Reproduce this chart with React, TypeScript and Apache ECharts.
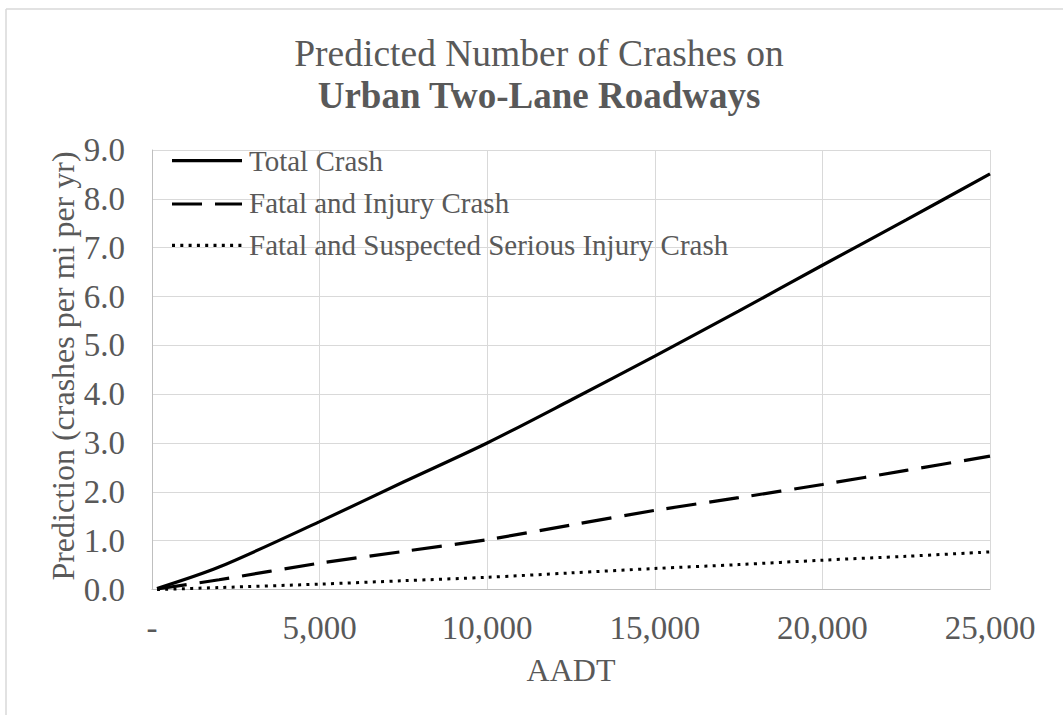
import React, { useEffect, useRef } from "react";
import * as echarts from "echarts";

const aadt = [150, 2000, 5000, 7500, 10000, 12500, 15000, 17500, 20000, 22500, 25000];
const totalCrash = [0.02, 0.46, 1.39, 2.2, 3.0, 3.88, 4.78, 5.7, 6.64, 7.57, 8.51];
const fatalInjury = [0.01, 0.2, 0.54, 0.78, 1.02, 1.32, 1.62, 1.88, 2.15, 2.44, 2.73];
const fatalSerious = [0.0, 0.04, 0.11, 0.18, 0.25, 0.34, 0.43, 0.51, 0.6, 0.68, 0.77];
const seriesNames = [
  "Total Crash",
  "Fatal and Injury Crash",
  "Fatal and Suspected Serious Injury Crash",
];
const titleLine1 = "Predicted Number of Crashes on";
const titleLine2 = "Urban Two-Lane Roadways";
const yAxisTitle = "Prediction (crashes per mi per yr)";
const xAxisTitle = "AADT";

const FONT = "'Liberation Serif', 'Times New Roman', serif";
const TXT = "#595959";
const DASHES: (number[] | null)[] = [null, [30, 13], [3, 5.3]];

export default function App() {
  const ref = useRef<HTMLDivElement>(null);
  useEffect(() => {
    if (!ref.current) return;
    const chart = echarts.init(ref.current, undefined, { renderer: "svg" });
    const pairs = (ys: number[]) => aadt.map((x, i) => [x, ys[i]]);
    const lineBase = { type: "line", showSymbol: false, symbol: "none", smooth: 0.3 };
    const legendRowsY = [160.7, 204, 245.3];
    const legendIcons = legendRowsY.map((y, i) => ({
      type: "line",
      shape: { x1: 172, y1: y, x2: 242, y2: y },
      style: { stroke: "#000", lineWidth: 3.2, lineDash: DASHES[i] || undefined },
      z: 10,
    }));
    chart.setOption({
      animation: false,
      backgroundColor: "#ffffff",
      textStyle: { fontFamily: FONT },
      grid: { left: 152, right: 73, top: 150, bottom: 125.5, containLabel: false },
      legend: {
        orient: "vertical",
        left: 172,
        top: 141,
        itemWidth: 70,
        itemHeight: 14,
        itemGap: 13,
        itemStyle: { opacity: 0 },
        lineStyle: { opacity: 0 },
        textStyle: { fontFamily: FONT, fontSize: 29, color: TXT, padding: [0, 0, 0, -4] },
        data: seriesNames,
      },
      xAxis: {
        type: "value",
        min: 0,
        max: 25000,
        interval: 5000,
        name: xAxisTitle,
        nameLocation: "middle",
        nameGap: 64,
        nameTextStyle: { fontFamily: FONT, fontSize: 32, color: TXT },
        axisLine: { show: true, lineStyle: { color: "#bfbfbf", width: 1 } },
        axisTick: { show: false },
        splitLine: { show: true, lineStyle: { color: "#d9d9d9", width: 1 } },
        axisLabel: {
          fontFamily: FONT,
          fontSize: 33,
          color: TXT,
          margin: 22,
          formatter: (v: number) => (v === 0 ? "-" : v.toLocaleString("en-US")),
        },
      },
      yAxis: {
        type: "value",
        min: 0,
        max: 9,
        interval: 1,
        axisLine: { show: true, lineStyle: { color: "#bfbfbf", width: 1 } },
        axisTick: { show: false },
        splitLine: { show: true, lineStyle: { color: "#d9d9d9", width: 1 } },
        axisLabel: {
          fontFamily: FONT,
          fontSize: 33,
          color: TXT,
          margin: 27,
          formatter: (v: number) => v.toFixed(1),
        },
      },
      graphic: [
        { type: "line", shape: { x1: 6, y1: 9, x2: 1063, y2: 9 }, style: { stroke: "#d9d9d9", lineWidth: 1.5 } },
        { type: "line", shape: { x1: 6, y1: 9, x2: 6, y2: 715 }, style: { stroke: "#d9d9d9", lineWidth: 1.5 } },
        ...legendIcons,
        {
          type: "text",
          x: 539,
          y: 53,
          style: { text: titleLine1, fontFamily: FONT, fontSize: 37.5, fill: TXT, align: "center", verticalAlign: "middle" },
        },
        {
          type: "text",
          x: 539,
          y: 95,
          style: { text: titleLine2, fontFamily: FONT, fontSize: 37, fontWeight: "bold", fill: TXT, align: "center", verticalAlign: "middle" },
        },
        {
          type: "text",
          x: 63,
          y: 366,
          rotation: Math.PI / 2,
          style: { text: yAxisTitle, fontFamily: FONT, fontSize: 32, fill: TXT, align: "center", verticalAlign: "middle" },
        },
      ],
      series: [
        { ...lineBase, name: seriesNames[0], data: pairs(totalCrash), lineStyle: { color: "#000", width: 3.2, type: "solid" }, itemStyle: { color: "#000" } },
        { ...lineBase, name: seriesNames[1], data: pairs(fatalInjury), lineStyle: { color: "#000", width: 3.2, type: DASHES[1] }, itemStyle: { color: "#000" } },
        { ...lineBase, name: seriesNames[2], data: pairs(fatalSerious), lineStyle: { color: "#000", width: 3, type: DASHES[2] }, itemStyle: { color: "#000" } },
      ],
    });
    return () => chart.dispose();
  }, []);
  return <div ref={ref} style={{ position: "fixed", left: 0, top: 0, width: 1063, height: 715, background: "#fff" }} />;
}
